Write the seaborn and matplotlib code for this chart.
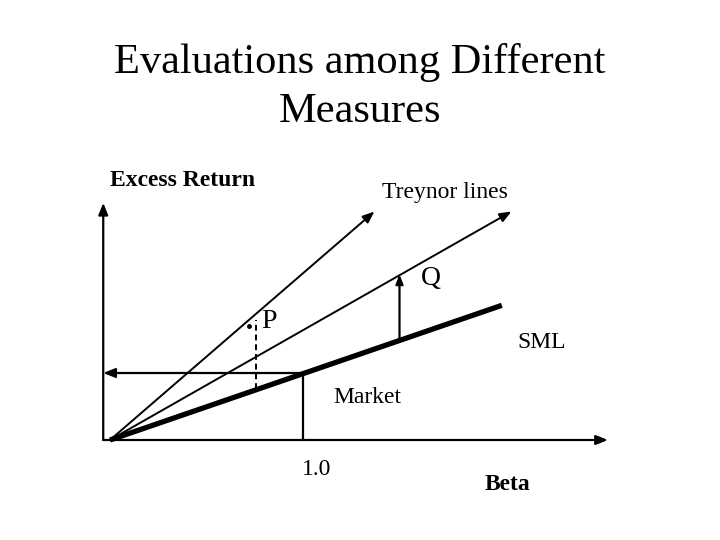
import matplotlib.pyplot as plt
import pandas as pd
import seaborn as sns

sns.set_style("white")
plt.rcParams['font.family'] = ['Liberation Serif', 'DejaVu Serif']
plt.rcParams['text.color'] = 'black'

# Beta / excess-return coordinates (market portfolio sits at 1.0, 1.0)
sml_beta = [0.0, 2.03]
sml_ret = [0.0, 2.01]
market_beta = 1.0
market_ret = 1.0
treynor_p_end = [1.37, 3.41]
treynor_q_end = [2.08, 3.41]
p_beta = 0.755
p_top = 1.79
p_dot = [0.72, 1.70]
q_beta = 1.50
q_low = 1.50
q_high = 2.47
x_axis_end = 2.58
y_axis_end = 3.54
axis_corner = [-0.035, 0.0]

W, H = 720, 540

def fx(px):
    return px / W

def fy(py):
    return 1 - py / H

fig = plt.figure(figsize=(7.2, 5.4), dpi=100)
ax = fig.add_axes([0, 0, 1, 1])
ax.set_xlim(-110 / 193, 610 / 193)
ax.set_ylim(-100 / 67, 440 / 67)
ax.set_axis_off()

arrow = dict(arrowstyle='-|>,head_length=0.5,head_width=0.2', color='black',
             lw=1.6, mutation_scale=14, shrinkA=0, shrinkB=0)

# axes
ax.annotate('', xy=(x_axis_end, axis_corner[1]), xytext=(axis_corner[0], axis_corner[1]),
            arrowprops=arrow)
ax.annotate('', xy=(axis_corner[0], y_axis_end), xytext=(axis_corner[0], axis_corner[1]),
            arrowprops=arrow)

# SML (thick)
sml = pd.DataFrame({'beta': sml_beta, 'ret': sml_ret})
sns.lineplot(data=sml, x='beta', y='ret', color='black', linewidth=3.8, ax=ax,
             estimator=None, sort=False, solid_capstyle='butt')

# Treynor lines
thin = dict(arrow, lw=1.4)
ax.annotate('', xy=tuple(treynor_p_end), xytext=(0, 0), arrowprops=thin)
ax.annotate('', xy=tuple(treynor_q_end), xytext=(0, 0), arrowprops=thin)

# market: vertical drop and horizontal arrow to the return axis
sns.lineplot(x=[market_beta, market_beta], y=[axis_corner[1], market_ret],
             color='black', linewidth=1.6, estimator=None, sort=False, ax=ax)
ax.annotate('', xy=(axis_corner[0], market_ret), xytext=(market_beta, market_ret),
            arrowprops=arrow)

# P: dashed drop to the SML
sns.lineplot(x=[p_beta, p_beta], y=[p_beta, p_top], color='black', linewidth=1.4,
             linestyle=(0, (3, 2)), estimator=None, sort=False, ax=ax)
ax.plot(p_dot[0], p_dot[1], 'o', color='black', markersize=2.5)

# Q: arrow from SML up to its Treynor line
ax.annotate('', xy=(q_beta, q_high), xytext=(q_beta, q_low),
            arrowprops=dict(arrow, mutation_scale=11))

# text
fig.text(0.5, fy(87), "Evaluations among Different\nMeasures", ha='center',
         va='center', fontsize=30.5, linespacing=1.38)
fig.text(fx(110), fy(186), "Excess Return", fontsize=17, fontweight='bold', va='baseline')
fig.text(fx(382), fy(198), "Treynor lines", fontsize=17, va='baseline')
fig.text(fx(421), fy(285), "Q", fontsize=20, va='baseline')
fig.text(fx(261), fy(328), "P", fontsize=20, va='baseline')
fig.text(fx(517), fy(348), "SML", fontsize=17, va='baseline')
fig.text(fx(333), fy(403), "Market", fontsize=17, va='baseline')
fig.text(fx(302), fy(475), "1.0", fontsize=17, va='baseline')
fig.text(fx(485), fy(490), "Beta", fontsize=17, fontweight='bold', va='baseline')

fig.savefig('out.png', dpi=100)
